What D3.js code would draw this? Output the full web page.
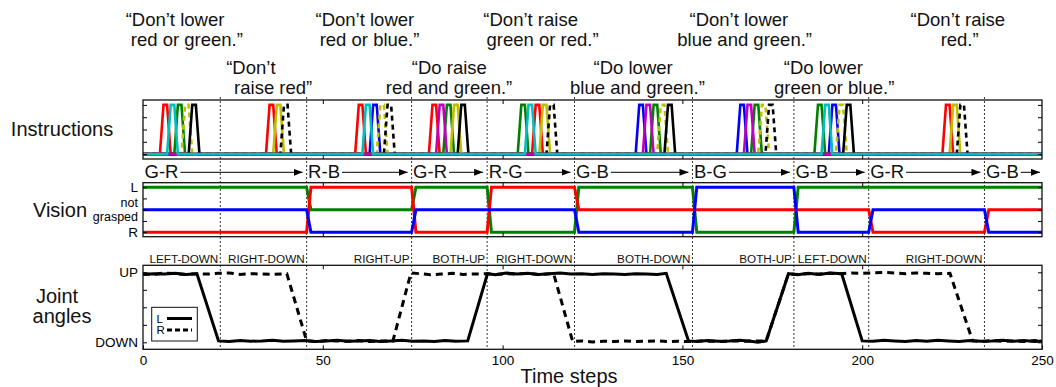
<!DOCTYPE html>
<html>
<head>
<meta charset="utf-8">
<script src="https://cdn.jsdelivr.net/npm/d3@7"></script>
<style>
  body { margin: 0; background: #fff; }
  svg { display: block; font-family: "Liberation Sans", Arial, Helvetica, sans-serif; }
</style>
</head>
<body>
<div id="chart"></div>
<script>
// ---- data ----
const boundaries = [21.5, 45.5, 74.7, 95.7, 120, 152.8, 181, 201.8, 234];
const jointLabels = ["LEFT-DOWN", "RIGHT-DOWN", "RIGHT-UP", "BOTH-UP", "RIGHT-DOWN",
                     "BOTH-DOWN", "BOTH-UP", "LEFT-DOWN", "RIGHT-DOWN"];

const visionPairs = ["G-R", "R-B", "G-R", "R-G", "G-B", "B-G", "G-B", "G-R", "G-B"];
const visionStarts = [0, 45.5, 74.7, 95.7, 120, 152.8, 181, 201.8, 234];

// time step at which the first word of each instruction starts rising
const instrStarts = [4.7, 34.2, 59.0, 79.5, 104.2, 137.0, 165.1, 186.7, 222.3];
const instrWords = [
  ["red", "or", "green", "lower", "Do"],
  ["red", "raise", "Don't"],
  ["red", "or", "blue", "lower", "Don't"],
  ["red", "and", "green", "raise", "Do"],
  ["green", "or", "red", "raise", "Don't"],
  ["blue", "and", "green", "lower", "Do"],
  ["blue", "and", "green", "lower", "Don't"],
  ["green", "or", "blue", "lower", "Do"],
  ["red", "raise", "Don't"]
];
const instrText = [
  ["“Don’t lower", "red or green.”"],
  ["“Don’t", "raise red”"],
  ["“Don’t lower", "red or blue.”"],
  ["“Do raise", "red and green.”"],
  ["“Don’t raise", "green or red.”"],
  ["“Do lower", "blue and green.”"],
  ["“Don’t lower", "blue and green.”"],
  ["“Do lower", "green or blue.”"],
  ["“Don’t raise", "red.”"]
];
// centre of each text line, in time steps
const instrTextT = [[8.9, 12.2], [30.0, 36.2], [61.7, 63.0], [85.2, 85.1], [107.8, 111.1],
                    [136.3, 137.5], [165.7, 167.3], [189.2, 192.2], [226.6, 227.1]];

// joint angles [time step, value] (0 = DOWN, 1 = UP)
const jointL = [[0,.97],[3,.98],[6,.975],[9,.985],[12,.97],[15,.98],
  [21,.02],[24,.01],[27,.025],[30,.015],[33,.02],[36,.03],[39,.015],[42,.02],[45,.025],[48,.01],
  [51,.02],[54,.03],[57,.015],[60,.02],[63,.025],[66,.01],[69,.02],[72,.03],[75,.015],[78,.02],
  [81,.01],[84,.025],[87,.015],[90.3,.02],
  [95.8,.98],[98,.965],[101,.99],[104,.975],[107,.985],[110,.97],[113,.98],[116,.99],[119,.975],
  [122,.98],[125,.97],[128,.98],[131,.975],[134,.97],[137,.98],[140,.975],[143,.97],[145.5,.985],
  [151.7,.02],[154,.01],[157,.025],[160,.015],[163,.02],[166,.03],[169,.015],[171,.0],[173.3,.02],
  [179.5,.98],[182,.965],[185,.985],[188,.97],[191,.99],[194.3,.98],
  [200,.02],[203,.015],[206,.03],[209,.02],[212,.01],[215,.025],[218,.015],[221,.03],[224,.02],
  [227,.01],[230,.025],[233,.015],[236,.02],[239,.03],[242,.015],[245,.025],[248,.01],[250,.02]];
const jointR = [[0,.98],[3,.97],[6,.99],[9,.98],[12,.97],[15,.98],[18,.975],[21,.985],[24,.99],
  [27,.97],[30,.98],[33,.975],[36,.97],[40,.98],
  [45.5,.02],[48,.01],[51,.025],[54,.02],[57,.015],[60,.025],[63,.01],[66,.02],[69.5,.02],
  [74.5,.99],[77,.98],[80,.965],[83,.975],[86,.985],[89,.97],[92,.975],[95,.98],[98,.97],
  [101,.98],[104,.975],[107,.985],[110,.97],[114.2,.98],
  [119.5,.01],[122,.02],[125,.005],[128,.015],[131,.01],[134,.02],[137,.01],[140,.015],[143,.02],
  [146,.01],[149,.015],[152,.01],[155,.02],[158,.015],[161,.01],[164,.02],[167,.015],[170,.02],[173.3,.02],
  [179.5,.98],[182,.97],[185,.98],[188,.975],[191,.985],[194,.98],[197,.99],[200,.985],[203,.99],
  [206,1.0],[209,.99],[212,.98],[215,.99],[218,.985],[221,.98],[224.4,.985],
  [230.7,.02],[233,.01],[236,.025],[239,.015],[242,.02],[245,.01],[248,.025],[250,.015]];

// ---- styles ----
const wordStyle = {
  blue:  { c: "#0000ff", dash: null },
  green: { c: "#008000", dash: null },
  red:   { c: "#ff0000", dash: null },
  raise: { c: "#bfbf00", dash: null },
  lower: { c: "#bfbf00", dash: "5,4" },
  Do:    { c: "#000000", dash: null },
  "Don't": { c: "#000000", dash: "5,4" },
  and:   { c: "#bf00bf", dash: null },
  or:    { c: "#00bfbf", dash: null }
};
const visColor = { G: "#008000", R: "#ff0000", B: "#0000ff" };

const W = 1056, H = 387;
const svg = d3.select("#chart").append("svg").attr("width", W).attr("height", H);

const x = d3.scaleLinear().domain([0, 250]).range([143, 1042]);
const panels = {
  instr:  { top: 100, bottom: 159 },
  vision: { top: 182.7, bottom: 236.7 },
  joint:  { top: 265.3, bottom: 349.3 }
};
Object.values(panels).forEach(p => {
  p.y = d3.scaleLinear().domain([-0.1, 1.1]).range([p.bottom, p.top]);
});

const font = "\"Liberation Sans\", Arial, Helvetica, sans-serif";

function frame(p, leftFmt, showX) {
  const g = svg.append("g");
  const yv = [0, 0.25, 0.5, 0.75, 1];
  const left = g.append("g").attr("transform", `translate(${x(0)},0)`)
    .call(d3.axisLeft(p.y).tickValues(yv).tickSize(-4).tickPadding(5).tickFormat(leftFmt || (() => "")));
  const right = g.append("g").attr("transform", `translate(${x(250)},0)`)
    .call(d3.axisRight(p.y).tickValues(yv).tickSize(-4).tickFormat(() => ""));
  const top = g.append("g").attr("transform", `translate(0,${p.top})`)
    .call(d3.axisTop(x).tickValues([50, 100, 150, 200]).tickSize(-4).tickFormat(() => ""));
  const bottom = g.append("g").attr("transform", `translate(0,${p.bottom})`)
    .call(d3.axisBottom(x).tickValues(showX ? [0, 50, 100, 150, 200, 250] : [50, 100, 150, 200])
      .tickSize(-4).tickPadding(6).tickFormat(showX ? d3.format("d") : () => ""));
  [left, right, top, bottom].forEach(a => {
    a.select(".domain").remove();
    a.attr("font-family", font).attr("font-size", 13.5);
    a.selectAll("line").attr("stroke", "#000");
    a.selectAll("text").attr("fill", "#000");
  });
  g.append("rect")
    .attr("x", x(0)).attr("y", p.top)
    .attr("width", x(250) - x(0)).attr("height", p.bottom - p.top)
    .attr("fill", "none").attr("stroke", "#111").attr("stroke-width", 1.3);
  return g;
}

// ---- dotted segment boundaries ----
svg.append("g").selectAll("line").data(boundaries).join("line")
  .attr("x1", d => x(d)).attr("x2", d => x(d))
  .attr("y1", panels.instr.top - 3).attr("y2", panels.joint.bottom)
  .attr("stroke", "#333").attr("stroke-width", 1).attr("stroke-dasharray", "2,2");

// ---- instruction texts ----
const txt = svg.append("g").attr("font-size", 18.5).attr("fill", "#111").attr("text-anchor", "middle");
instrText.forEach((lines, i) => {
  const row = i % 2 === 0 ? 26 : 74;
  lines.forEach((s, j) => {
    txt.append("text").attr("x", x(instrTextT[i][j])).attr("y", row + j * 20).text(s);
  });
});

// ---- instructions panel ----
const pI = panels.instr;
const lineI = d3.line().x(d => x(d[0])).y(d => pI.y(d[1]));
const vocab = ["blue", "green", "red", "raise", "lower", "Do", "Don't", "and", "or"];
const instrSeries = vocab.map(w => {
  const pts = [[0, 0]];
  instrWords.forEach((ws, i) => {
    ws.forEach((tok, j) => {
      if (tok !== w) return;
      const s = instrStarts[i] + 2 * j;
      pts.push([s, 0], [s + 1, 1], [s + 2, 1], [s + 3, 0]);
    });
  });
  pts.push([250, 0]);
  return { w, pts };
});
svg.append("g").selectAll("path").data(instrSeries).join("path")
  .attr("d", d => lineI(d.pts))
  .attr("fill", "none")
  .attr("stroke", d => wordStyle[d.w].c)
  .attr("stroke-width", 2.6)
  .attr("stroke-dasharray", d => wordStyle[d.w].dash);
frame(pI);

// ---- vision arrows row ----
const arrowDefs = svg.append("defs");
arrowDefs.append("marker").attr("id", "arr")
  .attr("markerUnits", "userSpaceOnUse")
  .attr("markerWidth", 9).attr("markerHeight", 7)
  .attr("refX", 9).attr("refY", 3.5).attr("orient", "auto")
  .append("path").attr("d", "M0,0L9,3.5L0,7Z").attr("fill", "#000");

const seq = svg.append("g");
visionPairs.forEach((lab, i) => {
  const t = seq.append("text").attr("x", x(visionStarts[i]) + 1.5).attr("y", 178)
    .attr("font-size", 18.5).attr("fill", "#111").text(lab);
  const end = t.node().getComputedTextLength() + x(visionStarts[i]) + 1.5;
  const stop = i + 1 < visionStarts.length ? x(visionStarts[i + 1]) - 4 : x(250) - 2;
  seq.append("line").attr("x1", end + 2).attr("x2", stop)
    .attr("y1", 172.3).attr("y2", 172.3)
    .attr("stroke", "#000").attr("stroke-width", 1)
    .attr("marker-end", "url(#arr)");
});

// ---- vision panel ----
const pV = panels.vision;
const lineV = d3.line().x(d => x(d[0])).y(d => pV.y(d[1]));
function visValue(pair, c) {
  if (pair[0] === c) return 1;
  if (pair[2] === c) return 0;
  return 0.5;
}
const visSeries = ["G", "R", "B"].map(c => {
  const pts = [[0, visValue(visionPairs[0], c)]];
  for (let k = 1; k < visionPairs.length; k++) {
    pts.push([visionStarts[k], visValue(visionPairs[k - 1], c)]);
    pts.push([visionStarts[k] + 1.2, visValue(visionPairs[k], c)]);
  }
  pts.push([250, visValue(visionPairs[visionPairs.length - 1], c)]);
  return { c, pts };
});
svg.append("g").selectAll("path").data(visSeries).join("path")
  .attr("d", d => lineV(d.pts))
  .attr("fill", "none")
  .attr("stroke", d => visColor[d.c])
  .attr("stroke-width", 3);
frame(pV, d => d === 1 ? "L" : d === 0 ? "R" : "");
svg.append("g").attr("font-size", 12.5).attr("text-anchor", "end").attr("fill", "#000")
  .selectAll("text").data(["not", "grasped"]).join("text")
  .attr("x", x(0) - 5).attr("y", (d, i) => pV.y(0.5) + (i ? 11 : -2.5)).text(d => d);

// ---- joint panel ----
const pJ = panels.joint;
const lineJ = d3.line().x(d => x(d[0])).y(d => pJ.y(d[1]));
svg.append("g").selectAll("text").data(jointLabels).join("text")
  .attr("x", (d, i) => x(boundaries[i]) - 2).attr("y", 263)
  .attr("text-anchor", "end").attr("font-size", 11.7).attr("fill", "#111")
  .text(d => d);
svg.append("path").attr("d", lineJ(jointR)).attr("fill", "none")
  .attr("stroke", "#000").attr("stroke-width", 3).attr("stroke-dasharray", "7,5");
svg.append("path").attr("d", lineJ(jointL)).attr("fill", "none")
  .attr("stroke", "#000").attr("stroke-width", 3);
frame(pJ, d => d === 1 ? "UP" : d === 0 ? "DOWN" : "", true);

// legend
const lg = svg.append("g");
lg.append("rect").attr("x", 151.7).attr("y", 307.3).attr("width", 45.6).attr("height", 33.7)
  .attr("fill", "#fff").attr("stroke", "#111").attr("stroke-width", 1);
[["L", null], ["R", "5,3"]].forEach(([k, dash], i) => {
  const yy = 318.5 + i * 11.5;
  lg.append("text").attr("x", 156.5).attr("y", yy + 4).attr("font-size", 11.5).text(k);
  lg.append("line").attr("x1", 167).attr("x2", 192).attr("y1", yy).attr("y2", yy)
    .attr("stroke", "#000").attr("stroke-width", 3).attr("stroke-dasharray", dash);
});

// ---- row titles ----
const titles = svg.append("g").attr("font-size", 20).attr("fill", "#111").attr("text-anchor", "middle");
titles.append("text").attr("x", 62).attr("y", 136).text("Instructions");
titles.append("text").attr("x", 60).attr("y", 216.5).text("Vision");
titles.append("text").attr("x", 57).attr("y", 302.5).text("Joint");
titles.append("text").attr("x", 62).attr("y", 322.5).text("angles");
titles.append("text").attr("x", 569).attr("y", 383).text("Time steps");
</script>
</body>
</html>
